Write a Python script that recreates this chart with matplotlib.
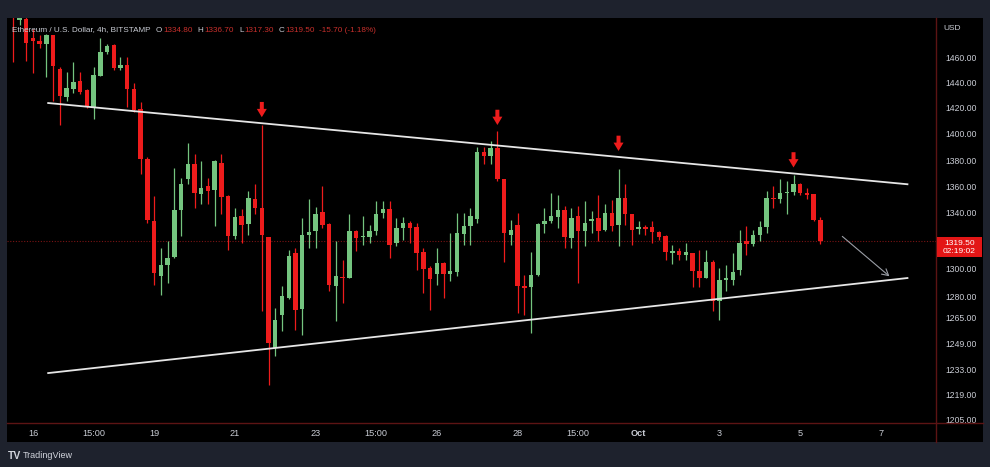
import numpy as np
import pandas as pd
import matplotlib
matplotlib.use("Agg")
import matplotlib.pyplot as plt
from matplotlib.patches import Rectangle
from matplotlib.lines import Line2D

plt.rcParams['font.family'] = ['Liberation Sans Narrow', 'Liberation Sans', 'DejaVu Sans']

# ETH/USD 4h candles (Bitstamp), first candle 15 Sep 15:00
first_candle = "2022-09-15 15:00"
opens = [1510, 1490, 1491, 1475.6, 1473.5, 1470.4, 1477.7, 1451, 1428.8, 1434.5,
         1441.6, 1434, 1420.4, 1445.4, 1464.7, 1469.9, 1451.5, 1454.1, 1435, 1418.6,
         1380.5, 1334, 1294.5, 1302.4, 1308.3, 1341.8, 1365.5, 1376.8, 1354.1, 1360.5,
         1357.2, 1378, 1352.8, 1323.1, 1337.6, 1332, 1350.3, 1343.4, 1322.4, 1246,
         1266.4, 1278.8, 1311.2, 1271.2, 1323.8, 1326.8, 1340.8, 1332, 1287.2, 1294,
         1293.3, 1327.3, 1322.5, 1322.4, 1327.3, 1340, 1342.6, 1318.3, 1329.2, 1332.8,
         1329.6, 1311.7, 1300.5, 1296.1, 1304, 1296.1, 1297.4, 1324.8, 1330.4, 1335.9,
         1386.2, 1383, 1389.2, 1365.5, 1324.3, 1331.1, 1287.2, 1286.5, 1295.2, 1332.3,
         1334, 1337.1, 1341.8, 1322, 1337.6, 1327.3, 1334, 1336.4, 1328, 1340,
         1331.1, 1351, 1338.8, 1328.7, 1329.5, 1329.6, 1326.3, 1323.1, 1311.4, 1312.4,
         1309.5, 1311.2, 1298, 1293.3, 1305.1, 1276.9, 1292, 1292.1, 1299.3, 1320,
         1317.6, 1323.8, 1329.9, 1351.5, 1350.3, 1355, 1356.3, 1362.3, 1354.9, 1354.1,
         1334.8]
highs = [1512, 1500, 1495, 1483, 1478, 1479, 1478, 1452, 1448.5, 1456.2,
         1448.5, 1435, 1452.3, 1475.6, 1471, 1470.4, 1460, 1460, 1439.6, 1424.7,
         1382, 1352.8, 1314.7, 1319.5, 1374.3, 1366.8, 1393, 1384.3, 1379.3, 1366.8,
         1380, 1384.3, 1353.5, 1343.8, 1342.6, 1356.7, 1361.8, 1406.5, 1322.5, 1271.7,
         1287.2, 1313.6, 1314.7, 1336.4, 1350.3, 1344.4, 1360.5, 1332.5, 1319.5, 1306.4,
         1338.8, 1328, 1337.6, 1331.6, 1349, 1349, 1349, 1336.4, 1336.9, 1334,
         1332.8, 1314.7, 1301.7, 1314.7, 1305, 1325.5, 1340, 1340, 1343.8, 1389.8,
         1389.8, 1394.2, 1401.8, 1366, 1335.2, 1340, 1295.7, 1311.9, 1332.8, 1343.4,
         1355.4, 1353.3, 1345.1, 1343.8, 1345.1, 1349, 1341.3, 1353.3, 1346.9, 1349.5,
         1373, 1361.8, 1339, 1334, 1331.6, 1334, 1326.8, 1324.3, 1317.1, 1314.7,
         1318.3, 1311.5, 1313.6, 1313.6, 1306.4, 1300.5, 1302.9, 1311.2, 1328, 1330.4,
         1328, 1334, 1356.7, 1360.5, 1365.5, 1364.3, 1368.7, 1363, 1358.7, 1354.6,
         1336.7]
lows = [1456, 1486, 1457.4, 1447.2, 1467.8, 1444.7, 1425.5, 1406.3, 1425.5, 1431.9,
        1430.6, 1420, 1411.5, 1445, 1463, 1449.8, 1449.8, 1420.4, 1416.6, 1369.3,
        1333, 1288.4, 1281.2, 1289.6, 1307.5, 1323.1, 1361.8, 1343.8, 1346.4, 1346.4,
        1330.4, 1338.8, 1313.6, 1321, 1318.3, 1324.3, 1338.8, 1269.3, 1224.5, 1240.9,
        1256.3, 1278, 1257.3, 1254.2, 1314.7, 1314.7, 1329.2, 1283.6, 1263, 1275.3,
        1293, 1312.4, 1317.1, 1318.3, 1324.3, 1336.4, 1307.6, 1315.9, 1320.7, 1318.3,
        1299.3, 1282.4, 1270.5, 1288, 1278.8, 1290.8, 1294.5, 1317.1, 1317.1, 1332.8,
        1376.8, 1376.8, 1364.3, 1305.1, 1317.1, 1268.1, 1266.9, 1255.2, 1294.5, 1325.5,
        1332.8, 1329.2, 1314.7, 1314.7, 1289.6, 1315.9, 1325.5, 1320, 1327, 1327.3,
        1315.9, 1331.6, 1317.1, 1325, 1324.3, 1318.3, 1320.7, 1306.4, 1303.3, 1306.4,
        1306.4, 1286.5, 1286.5, 1293, 1269.3, 1263.5, 1283.6, 1288.4, 1295.7, 1310,
        1316, 1319.5, 1325.5, 1343.8, 1347.7, 1338.8, 1353.3, 1354, 1350.3, 1334,
        1317.3]
closes = [1495, 1496, 1471.7, 1473, 1470.4, 1477.7, 1452.8, 1429.3, 1435.7, 1440.3,
          1432.7, 1420.9, 1446, 1464.7, 1469.1, 1451.8, 1454.1, 1435, 1417.8, 1380.5,
          1334.5, 1296.9, 1302.4, 1307.6, 1341.8, 1362.3, 1376.8, 1355.4, 1359.2, 1356.7,
          1379.3, 1352.1, 1323.1, 1336.9, 1331.1, 1351.5, 1343.4, 1324.3, 1249, 1263.5,
          1280, 1308.8, 1270.5, 1323.8, 1326.3, 1339.5, 1331.6, 1288, 1294.5, 1293,
          1327.3, 1322, 1323, 1326.8, 1339.5, 1342.6, 1317.1, 1329.2, 1332.8, 1329.2,
          1311.2, 1300, 1292.8, 1304, 1296.1, 1298, 1325.5, 1330.4, 1337.6, 1386.2,
          1383, 1389.2, 1365.5, 1325.5, 1328, 1287.2, 1286, 1295.2, 1332, 1334,
          1337.6, 1341.8, 1322.4, 1336.4, 1327.3, 1332.8, 1335.9, 1327.3, 1340, 1330.4,
          1351, 1338.8, 1328, 1330.1, 1328.5, 1326.3, 1322.4, 1311.9, 1312.4, 1309.5,
          1311.9, 1298, 1293.3, 1305.1, 1276.9, 1292.1, 1293, 1297.6, 1318.3, 1317.6,
          1323.8, 1329.9, 1351, 1350.3, 1355.4, 1356, 1362.3, 1355.4, 1353.5, 1335.2,
          1319.5]

tick_times = ["2022-09-16 03:00", "2022-09-17 15:00", "2022-09-19 03:00", "2022-09-21 03:00",
              "2022-09-23 03:00", "2022-09-24 15:00", "2022-09-26 03:00", "2022-09-28 03:00",
              "2022-09-29 15:00", "2022-10-01 03:00", "2022-10-03 03:00", "2022-10-05 03:00",
              "2022-10-07 03:00"]
tick_labels = ["16", "15:00", "19", "21", "23", "15:00", "26", "28", "15:00", "Oct", "3", "5", "7"]

# price axis labels and the screen row where the reference draws each one
price_ticks = [1205, 1219, 1233, 1249, 1265, 1280, 1300, 1340, 1360, 1380, 1400, 1420, 1440, 1460]
price_rows = [420, 395, 369.7, 343.3, 317.7, 296.7, 269, 213.3, 187.3, 160.7, 134, 108.3, 83.3, 58.3]

# drawings on the chart
line_times = ["2022-09-16 11:30", "2022-10-07 19:15"]
upper_line = [1423.7, 1361.8]
lower_line = [1231.0, 1293.3]
proj_times = ["2022-10-06 04:00", "2022-10-07 08:00"]
proj_prices = [1323.1, 1294.5]
marker_times = ["2022-09-21 19:00", "2022-09-27 15:00", "2022-09-30 15:00", "2022-10-04 23:00"]
countdown = "02:19:02"

W, H = 990, 467
bg = '#1e222d'
up_col = '#74c47f'
dn_col = '#ee1c1c'
txt_col = '#c9ccd4'
val_col = '#c8302c'
sep_col = '#5c1414'

times = pd.date_range(first_candle, periods=len(opens), freq='4h')


def to_x(t):
    return (pd.Timestamp(t) - times[0]) / pd.Timedelta(hours=4)


# stretched price scale, extended a little past both ends
sp = np.array(price_ticks, float)
sr = np.array(price_rows, float)
lo_slope = (sr[0] - sr[1]) / (sp[1] - sp[0])
hi_slope = (sr[-2] - sr[-1]) / (sp[-1] - sp[-2])
sp = np.r_[sp[0] - 60, sp, sp[-1] + 80]
sr = np.r_[sr[0] + 60 * lo_slope, sr, sr[-1] - 80 * hi_slope]


def fwd(v):
    return np.interp(np.asarray(v, float), sp, -sr)


def inv(t):
    return np.interp(np.asarray(t, float), -sr, sp)


fig = plt.figure(figsize=(W / 100, H / 100), dpi=100)
fig.patch.set_facecolor(bg)
fig.add_artist(Rectangle((7 / W, 1 - 442 / H), 976 / W, 424 / H, transform=fig.transFigure,
                         facecolor='black', edgecolor='none', zorder=0))

ax = fig.add_axes([7 / W, 1 - 423 / H, 929 / W, 405 / H])
ax.set_facecolor('black')
ax.set_yscale('function', functions=(fwd, inv))
ax.set_xlim(-0.86, 137.17)
ax.set_ylim(1203.3, 1491.5)
for s in ax.spines.values():
    s.set_visible(False)

x = np.arange(len(opens))
o = np.array(opens)
c = np.array(closes)
hi = np.array(highs)
lo = np.array(lows)
cols = np.where(c >= o, up_col, dn_col)

ax.vlines(x, lo, hi, colors=cols, linewidth=0.9, zorder=2)
ax.bar(x, np.maximum(np.abs(c - o), 0.6), bottom=np.minimum(o, c), width=0.66,
       color=cols, edgecolor='none', zorder=3)

# last price line
ax.axhline(closes[-1], color='#7a1414', lw=0.8, ls=(0, (1, 1.5)), zorder=1)

# triangle trend lines
lx = [to_x(t) for t in line_times]
ax.plot(lx, upper_line, color='#e6e6e6', lw=1.3, zorder=4, solid_capstyle='butt')
ax.plot(lx, lower_line, color='#e6e6e6', lw=1.3, zorder=4, solid_capstyle='butt')

# projection arrow
ax.annotate('', xy=(to_x(proj_times[1]), proj_prices[1]),
            xytext=(to_x(proj_times[0]), proj_prices[0]),
            arrowprops=dict(arrowstyle='->,head_length=0.45,head_width=0.25', color='#9a9ea6',
                            lw=0.8, shrinkA=0, shrinkB=0), zorder=4)

# red markers above the touches of the upper line
tr = ax.transData
ul0 = tr.transform((lx[0], upper_line[0]))
ul1 = tr.transform((lx[1], upper_line[1]))
for t in marker_times:
    xi = to_x(t)
    i = int(round(xi))
    line_y = ul0[1] + (ul1[1] - ul0[1]) * (xi - lx[0]) / (lx[1] - lx[0])
    px_x, high_y = tr.transform((xi, highs[i]))
    tip_y = max(line_y, high_y) + 6
    tip = tr.inverted().transform((px_x, tip_y))
    ax.annotate('', xy=(xi, tip[1]), xytext=(0, 11), textcoords='offset points',
                arrowprops=dict(arrowstyle='simple,head_length=0.5,head_width=0.6,tail_width=0.24',
                                fc=dn_col, ec='none', shrinkA=0, shrinkB=0, mutation_scale=12),
                zorder=5)

# axes ticks
ax.yaxis.tick_right()
ax.set_yticks(price_ticks, [f"{p:.2f}" for p in price_ticks])
ax.minorticks_off()
ax.tick_params(axis='y', length=0, pad=6.5, labelsize=6.2, labelcolor=txt_col)
ax.set_xticks([to_x(t) for t in tick_times], tick_labels)
ax.tick_params(axis='x', length=0, pad=4.5, labelsize=6.6, labelcolor=txt_col)
for lab in ax.get_xticklabels():
    if lab.get_text() == 'Oct':
        lab.set_fontweight('bold')

# scale separators
fig.add_artist(Line2D([936 / W, 936 / W], [1 - 18 / H, 1 - 442 / H], color=sep_col, lw=1))
fig.add_artist(Line2D([7 / W, 983 / W], [1 - 423 / H, 1 - 423 / H], color=sep_col, lw=1))

# last price tag on the scale
py = tr.transform((0, closes[-1]))[1]
fig.add_artist(Rectangle((937 / W, (py - 16) / H), 45 / W, 20 / H, transform=fig.transFigure,
                         facecolor='#e31616', edgecolor='none', zorder=5))
fig.text(959.5 / W, (py - 6) / H, f"{closes[-1]:.2f}\n{countdown}", ha='center', va='center',
         fontsize=6, color='white', linespacing=1.1, zorder=6)
fig.text(943 / W, 1 - 28 / H, "USD", ha='left', va='center', fontsize=6, color=txt_col)

# legend line, laid out piece after piece
chg = closes[-1] - closes[-2]
pieces = [("Ethereum / U.S. Dollar, 4h, BITSTAMP", txt_col, 5),
          ("O", txt_col, 1), (f"{opens[-1]:.2f}", val_col, 5),
          ("H", txt_col, 1), (f"{highs[-1]:.2f}", val_col, 5),
          ("L", txt_col, 1), (f"{lows[-1]:.2f}", val_col, 5),
          ("C", txt_col, 1), (f"{closes[-1]:.2f}", val_col, 4),
          (f"{chg:.2f} ({chg / closes[-2] * 100:.2f}%)", val_col, 0)]
renderer = fig.canvas.get_renderer()
xpos = 12.5
for s, col, gap in pieces:
    t = fig.text(xpos / W, 1 - 30 / H, s, ha='left', va='center', fontsize=5.9, color=col)
    xpos = t.get_window_extent(renderer).x1 + gap

# footer
fig.text(8 / W, 1 - 456 / H, "TV", ha='left', va='center', fontsize=7.5, fontweight='bold',
         color='#d1d4dc')
fig.text(23 / W, 1 - 456 / H, "TradingView", ha='left', va='center', fontsize=6.5, color='#d1d4dc')

fig.savefig('out.png', dpi=100, facecolor=bg)
